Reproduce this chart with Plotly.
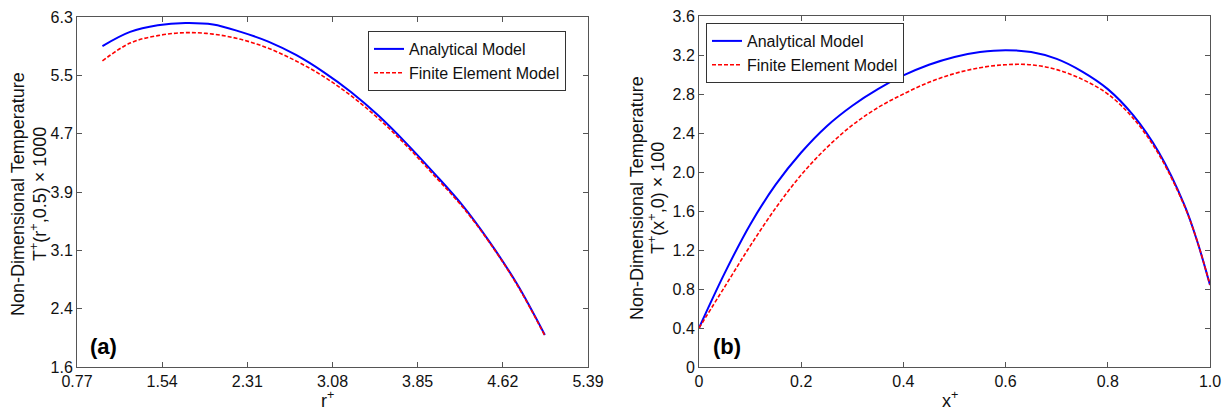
import plotly.graph_objects as go

# ---- Panel (a) data ----
r_plus = [1.00, 1.25, 1.50, 1.75, 2.00, 2.25, 2.50, 2.75, 3.00, 3.25, 3.50, 3.75, 4.00, 4.25, 4.50, 4.75, 5.00]
analytical_a = [5.91, 6.10, 6.19, 6.22, 6.20, 6.10, 5.97, 5.79, 5.56, 5.29, 4.97, 4.60, 4.20, 3.78, 3.28, 2.71, 2.03]
fem_a = [5.71, 5.95, 6.05, 6.09, 6.07, 6.00, 5.88, 5.71, 5.50, 5.24, 4.93, 4.57, 4.17, 3.76, 3.27, 2.70, 2.02]

# ---- Panel (b) data ----
x_plus = [0.0, 0.05, 0.10, 0.15, 0.20, 0.25, 0.30, 0.35, 0.40, 0.45, 0.50, 0.55, 0.60, 0.65, 0.70, 0.75, 0.80, 0.85, 0.90, 0.95, 0.975, 1.0]
analytical_b = [0.40, 0.96, 1.46, 1.87, 2.20, 2.47, 2.68, 2.85, 2.99, 3.10, 3.18, 3.23, 3.25, 3.23, 3.16, 3.03, 2.85, 2.58, 2.20, 1.66, 1.29, 0.84]
fem_b = [0.40, 0.82, 1.24, 1.63, 1.97, 2.25, 2.48, 2.66, 2.80, 2.92, 3.01, 3.07, 3.10, 3.10, 3.05, 2.95, 2.80, 2.55, 2.18, 1.65, 1.29, 0.84]

# ---- ticks ----
xa_ticks = [0.77, 1.54, 2.31, 3.08, 3.85, 4.62, 5.39]
xa_labels = ["0.77", "1.54", "2.31", "3.08", "3.85", "4.62", "5.39"]
ya_min, ya_max = 1.6, 6.3
ya_labels = ["1.6", "2.4", "3.1", "3.9", "4.7", "5.5", "6.3"]
ya_ticks = [ya_min + i * (ya_max - ya_min) / 6 for i in range(7)]
xb_ticks = [0, 0.2, 0.4, 0.6, 0.8, 1.0]
xb_labels = ["0", "0.2", "0.4", "0.6", "0.8", "1.0"]
yb_ticks = [0, 0.4, 0.8, 1.2, 1.6, 2.0, 2.4, 2.8, 3.2, 3.6]
yb_labels = ["0", "0.4", "0.8", "1.2", "1.6", "2.0", "2.4", "2.8", "3.2", "3.6"]

FONT = "Liberation Sans, Arial, sans-serif"
W, H = 1230, 417
AX = "#555555"

fig = go.Figure()
fig.add_trace(go.Scatter(x=r_plus, y=analytical_a, mode="lines", name="Analytical Model",
                         line=dict(color="#0000ff", width=2, shape="spline"), xaxis="x", yaxis="y", legend="legend"))
fig.add_trace(go.Scatter(x=r_plus, y=fem_a, mode="lines", name="Finite Element Model",
                         line=dict(color="#ff0000", width=1.6, dash="4px,2px", shape="spline"), xaxis="x", yaxis="y", legend="legend"))
fig.add_trace(go.Scatter(x=x_plus, y=analytical_b, mode="lines", name="Analytical Model",
                         line=dict(color="#0000ff", width=2, shape="spline"), xaxis="x2", yaxis="y2", legend="legend2"))
fig.add_trace(go.Scatter(x=x_plus, y=fem_b, mode="lines", name="Finite Element Model",
                         line=dict(color="#ff0000", width=1.6, dash="4px,2px", shape="spline"), xaxis="x2", yaxis="y2", legend="legend2"))

def px_x(p):
    return p / W

def px_y(p):
    return 1 - p / H

axis_common = dict(showline=True, linecolor=AX, linewidth=1, mirror="ticks", ticks="inside",
                   ticklen=5, tickcolor=AX, showgrid=False, zeroline=False,
                   tickfont=dict(family=FONT, size=16, color="#111"))

legend_common = dict(xanchor="left", yanchor="top", bgcolor="white",
                     bordercolor="#333", borderwidth=1, font=dict(family=FONT, size=16, color="#111"),
                     tracegroupgap=0, itemwidth=30)

fig.update_layout(
    width=W, height=H, paper_bgcolor="white", plot_bgcolor="white",
    margin=dict(l=0, r=0, t=0, b=0, autoexpand=False),
    font=dict(family=FONT, color="#111"),
    xaxis=dict(domain=[px_x(77), px_x(588)], range=[0.77, 5.39], tickvals=xa_ticks, ticktext=xa_labels,
               anchor="y", **axis_common),
    yaxis=dict(domain=[px_y(367), px_y(17)], range=[ya_min, ya_max], tickvals=ya_ticks, ticktext=ya_labels,
               anchor="x", **axis_common),
    xaxis2=dict(domain=[px_x(699), px_x(1210)], range=[0, 1], tickvals=xb_ticks, ticktext=xb_labels,
                anchor="y2", **axis_common),
    yaxis2=dict(domain=[px_y(367), px_y(16)], range=[0, 3.6], tickvals=yb_ticks, ticktext=yb_labels,
                anchor="x2", **axis_common),
    legend=dict(x=px_x(368), y=px_y(31), **legend_common),
    legend2=dict(x=px_x(706), y=px_y(23), **legend_common),
    showlegend=True,
)

tfont = dict(family=FONT, size=18, color="#111")
ann = [
    dict(text="Non-Dimensional Temperature", x=px_x(18), y=px_y(194), textangle=-90),
    dict(text="T<sup>+</sup>(r<sup>+</sup>,0.5) × 1000", x=px_x(38), y=px_y(194), textangle=-90),
    dict(text="Non-Dimensional Temperature", x=px_x(637), y=px_y(198), textangle=-90),
    dict(text="T<sup>+</sup>(x<sup>+</sup>,0) × 100", x=px_x(657), y=px_y(198), textangle=-90),
    dict(text="r<sup>+</sup>", x=px_x(327), y=px_y(399)),
    dict(text="x<sup>+</sup>", x=px_x(950), y=px_y(399)),
]
for a in ann:
    a.update(xref="paper", yref="paper", showarrow=False, xanchor="center", yanchor="middle", font=tfont)
ann.append(dict(text="<b>(a)</b>", x=px_x(88), y=px_y(346), xref="paper", yref="paper", showarrow=False,
                xanchor="left", yanchor="middle", font=dict(family=FONT, size=22, color="#000")))
ann.append(dict(text="<b>(b)</b>", x=px_x(711), y=px_y(346), xref="paper", yref="paper", showarrow=False,
                xanchor="left", yanchor="middle", font=dict(family=FONT, size=22, color="#000")))
fig.update_layout(annotations=ann)

fig.write_html("out.html", config={"displayModeBar": False},
               post_script="document.body.style.margin='0px';document.body.style.padding='0px';"
                           "document.documentElement.style.overflow='hidden';")
